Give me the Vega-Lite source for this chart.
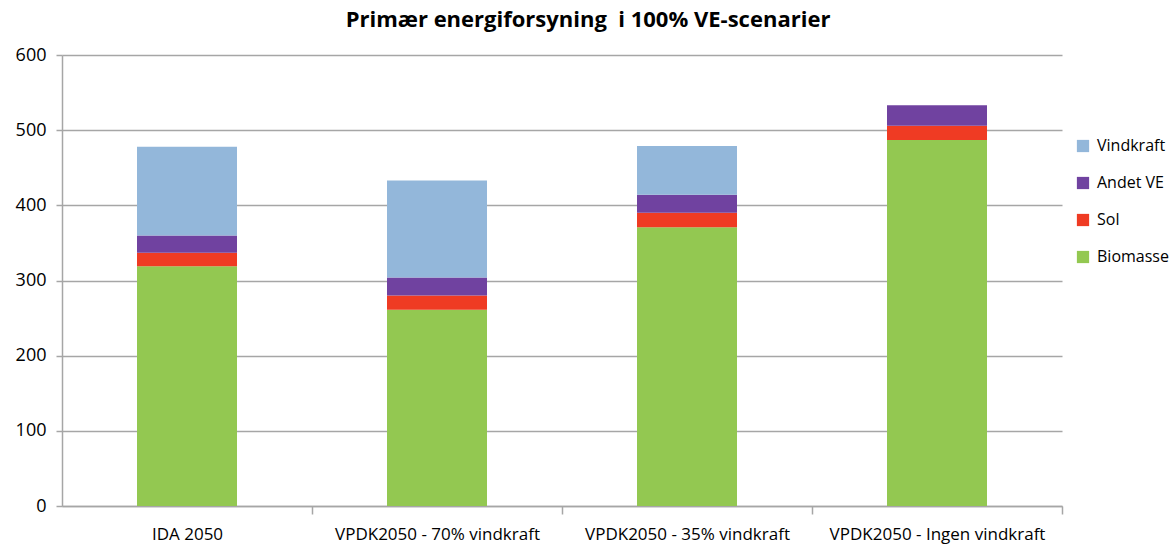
{
  "$schema": "https://vega.github.io/schema/vega-lite/v6.json",
  "autosize": {"type": "none"},
  "padding": {"left": 62, "top": 55, "right": 109, "bottom": 40},
  "width": 1000,
  "height": 451,
  "background": "white",
  "title": {
    "text": "Primær energiforsyning \u00a0i 100% VE-scenarier",
    "font": "Open Sans",
    "fontSize": 22,
    "fontWeight": "bold",
    "color": "#000000",
    "anchor": "middle",
    "dx": 26,
    "offset": 14
  },
  "data": {
    "values": [
      {"scenarie": "IDA 2050", "kilde": "Biomasse", "ord": 1, "værdi": 319},
      {"scenarie": "IDA 2050", "kilde": "Sol", "ord": 2, "værdi": 18},
      {"scenarie": "IDA 2050", "kilde": "Andet VE", "ord": 3, "værdi": 23},
      {"scenarie": "IDA 2050", "kilde": "Vindkraft", "ord": 4, "værdi": 118},
      {"scenarie": "VPDK2050 - 70% vindkraft", "kilde": "Biomasse", "ord": 1, "værdi": 261},
      {"scenarie": "VPDK2050 - 70% vindkraft", "kilde": "Sol", "ord": 2, "værdi": 19},
      {"scenarie": "VPDK2050 - 70% vindkraft", "kilde": "Andet VE", "ord": 3, "værdi": 24},
      {"scenarie": "VPDK2050 - 70% vindkraft", "kilde": "Vindkraft", "ord": 4, "værdi": 129},
      {"scenarie": "VPDK2050 - 35% vindkraft", "kilde": "Biomasse", "ord": 1, "værdi": 371},
      {"scenarie": "VPDK2050 - 35% vindkraft", "kilde": "Sol", "ord": 2, "værdi": 19},
      {"scenarie": "VPDK2050 - 35% vindkraft", "kilde": "Andet VE", "ord": 3, "værdi": 24},
      {"scenarie": "VPDK2050 - 35% vindkraft", "kilde": "Vindkraft", "ord": 4, "værdi": 65},
      {"scenarie": "VPDK2050 - Ingen vindkraft", "kilde": "Biomasse", "ord": 1, "værdi": 487},
      {"scenarie": "VPDK2050 - Ingen vindkraft", "kilde": "Sol", "ord": 2, "værdi": 19},
      {"scenarie": "VPDK2050 - Ingen vindkraft", "kilde": "Andet VE", "ord": 3, "værdi": 27},
      {"scenarie": "VPDK2050 - Ingen vindkraft", "kilde": "Vindkraft", "ord": 4, "værdi": 0}
    ]
  },
  "mark": {"type": "bar"},
  "encoding": {
    "x": {
      "field": "scenarie",
      "type": "nominal",
      "sort": null,
      "scale": {"paddingInner": 0.6, "paddingOuter": 0.3},
      "axis": {
        "title": null,
        "labelAngle": 0,
        "labelFont": "Open Sans",
        "labelFontSize": 17,
        "labelColor": "#000000",
        "labelPadding": 12,
        "labelLimit": 0,
        "labelOffset": -125,
        "domainColor": "#A6A6A6",
        "domainWidth": 1.5,
        "tickColor": "#A6A6A6",
        "tickWidth": 1.5,
        "tickSize": 8,
        "tickOffset": 125,
        "grid": false
      }
    },
    "y": {
      "field": "værdi",
      "type": "quantitative",
      "stack": "zero",
      "scale": {"domain": [0, 600], "nice": false},
      "axis": {
        "title": null,
        "values": [0, 100, 200, 300, 400, 500, 600],
        "labelFont": "Open Sans",
        "labelFontSize": 18,
        "labelColor": "#000000",
        "labelPadding": 10,
        "domainColor": "#A6A6A6",
        "domainWidth": 1.5,
        "tickColor": "#A6A6A6",
        "tickWidth": 1.5,
        "tickSize": 6,
        "grid": true,
        "gridColor": "#A6A6A6",
        "gridWidth": 1.5
      }
    },
    "color": {
      "field": "kilde",
      "type": "nominal",
      "scale": {
        "domain": ["Vindkraft", "Andet VE", "Sol", "Biomasse"],
        "range": ["#93B7DA", "#7042A0", "#EF3B23", "#93C851"]
      },
      "legend": {
        "title": null,
        "orient": "none",
        "legendX": 1013,
        "legendY": 83,
        "symbolType": "square",
        "symbolSize": 150,
        "symbolStrokeWidth": 0,
        "rowPadding": 21,
        "labelFont": "Open Sans",
        "labelFontSize": 16,
        "labelColor": "#000000",
        "labelOffset": 6
      }
    },
    "order": {"field": "ord", "type": "quantitative"}
  },
  "config": {
    "view": {"stroke": null}
  }
}
